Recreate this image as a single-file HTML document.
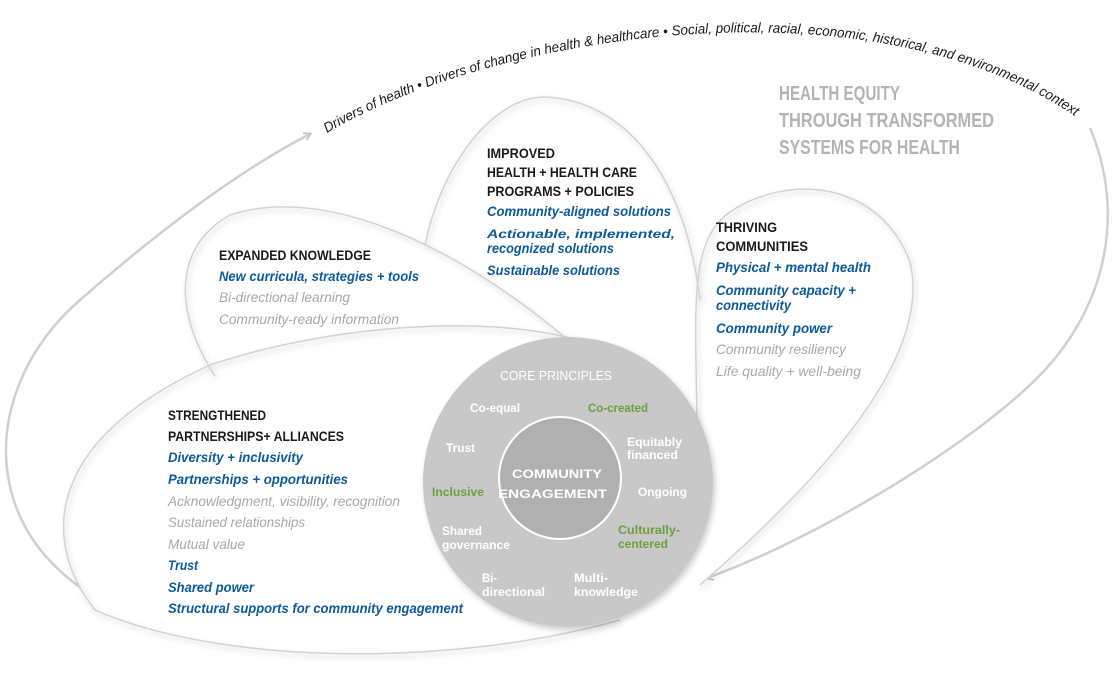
<!DOCTYPE html>
<html><head><meta charset="utf-8"><style>
html,body{margin:0;padding:0;background:#fff;width:1114px;height:673px;overflow:hidden}
svg{display:block}
text{font-family:"Liberation Sans Narrow","Liberation Sans",sans-serif}
.h{font-weight:bold;fill:#1a1a1a;font-size:14px}
.b{font-weight:bold;font-style:italic;fill:#0d5a9a;font-size:14px}
.g{font-style:italic;fill:#a8a8a8;font-size:14px}
.c{font-weight:bold;fill:#fff;font-size:12px}
.cg{font-weight:bold;fill:#6aa23a;font-size:12px}
</style></head><body>
<svg width="1114" height="673" viewBox="0 0 1114 673" xmlns="http://www.w3.org/2000/svg">
<defs>
<filter id="sh" x="-10%" y="-10%" width="120%" height="130%"><feDropShadow dx="2" dy="3" stdDeviation="3" flood-color="#000" flood-opacity="0.2"/></filter>
<marker id="ar" markerWidth="10" markerHeight="10" refX="7" refY="5" orient="auto" markerUnits="userSpaceOnUse"><path d="M1 1 L8 5 L1 9" fill="none" stroke="#c8c8c8" stroke-width="2"/></marker>
<path id="arc" d="M 327 133 C 500 30, 900 -30, 1100 135"/>
</defs>
<!-- big arrows -->
<path d="M 175 628 C -25 580, -35 400, 80 300 C 160 230, 240 170, 310 134" fill="none" stroke="#d0d0d0" stroke-width="2.5" marker-end="url(#ar)"/>
<path d="M 1090 128 C 1125 210, 1110 310, 1030 385 C 950 460, 800 545, 707 578" fill="none" stroke="#d0d0d0" stroke-width="2.5" marker-end="url(#ar)"/>
<text font-size="14" fill="#1a1a1a" font-style="italic"><textPath href="#arc" textLength="780" lengthAdjust="spacingAndGlyphs">Drivers of health  •  Drivers of change in health &amp; healthcare  •  Social, political, racial, economic, historical, and environmental context</textPath></text>
<!-- petal fills -->
<g fill="#fff">
<path d="M 425 245 C 440 170, 490 97, 545 97 C 625 100, 685 175, 705 330 L 568 482 Z"/>
<path d="M 697 420 C 695 300, 690 240, 730 212 C 790 172, 880 182, 910 262 C 930 345, 850 455, 700 585 L 568 482 Z"/>
<path d="M 215 376 C 178 320, 168 250, 230 215 C 320 185, 450 240, 568 340 L 568 482 Z"/>
<path d="M 95 610 C 40 540, 45 440, 210 365 C 330 325, 480 315, 570 338 L 620 620 C 450 668, 220 665, 95 610 Z"/>
</g>
<!-- petal outlines -->
<g fill="none" stroke="#d2d2d2" stroke-width="1.5" filter="url(#sh)">
<path d="M 425 245 C 440 170, 490 97, 545 97 C 625 100, 685 175, 700 300"/>
<path d="M 697 420 C 695 300, 690 240, 730 212 C 790 172, 880 182, 910 262 C 930 345, 850 455, 700 585"/>
<path d="M 215 376 C 178 320, 168 250, 230 215 C 320 185, 450 240, 568 340"/>
<path d="M 570 338 C 480 315, 330 325, 210 365 C 45 440, 40 540, 95 610 C 220 665, 450 668, 620 620"/>
</g>
<!-- core circle -->
<circle cx="568" cy="482" r="145" fill="#c8c8c8" filter="url(#sh)"/>
<circle cx="560" cy="478" r="61" fill="#b0b0b0" stroke="#fff" stroke-width="2"/>
<text x="556" y="380" text-anchor="middle" font-size="13" fill="#fff" textLength="112" lengthAdjust="spacingAndGlyphs">CORE PRINCIPLES</text>
<text class="c" x="470" y="412" textLength="50" lengthAdjust="spacingAndGlyphs">Co-equal</text>
<text class="cg" x="588" y="412" textLength="60" lengthAdjust="spacingAndGlyphs">Co-created</text>
<text class="c" x="446" y="452" textLength="29" lengthAdjust="spacingAndGlyphs">Trust</text>
<text class="c" x="627" y="446" textLength="55" lengthAdjust="spacingAndGlyphs">Equitably</text>
<text class="c" x="627" y="459" textLength="51" lengthAdjust="spacingAndGlyphs">financed</text>
<text class="c" x="512" y="478" font-size="14" textLength="90" lengthAdjust="spacingAndGlyphs">COMMUNITY</text>
<text class="c" x="498" y="498" font-size="14" textLength="109" lengthAdjust="spacingAndGlyphs">ENGAGEMENT</text>
<text class="cg" x="432" y="496" textLength="52" lengthAdjust="spacingAndGlyphs">Inclusive</text>
<text class="c" x="638" y="496" textLength="49" lengthAdjust="spacingAndGlyphs">Ongoing</text>
<text class="c" x="442" y="535" textLength="40" lengthAdjust="spacingAndGlyphs">Shared</text>
<text class="c" x="442" y="549" textLength="68" lengthAdjust="spacingAndGlyphs">governance</text>
<text class="cg" x="618" y="534" textLength="62" lengthAdjust="spacingAndGlyphs">Culturally-</text>
<text class="cg" x="618" y="548" textLength="50" lengthAdjust="spacingAndGlyphs">centered</text>
<text class="c" x="482" y="582" textLength="15" lengthAdjust="spacingAndGlyphs">Bi-</text>
<text class="c" x="482" y="596" textLength="63" lengthAdjust="spacingAndGlyphs">directional</text>
<text class="c" x="574" y="582" textLength="34" lengthAdjust="spacingAndGlyphs">Multi-</text>
<text class="c" x="574" y="596" textLength="64" lengthAdjust="spacingAndGlyphs">knowledge</text>
<!-- health equity -->
<g font-size="20" font-weight="bold" fill="#b4b4b4">
<text x="779" y="100" textLength="121" lengthAdjust="spacingAndGlyphs">HEALTH EQUITY</text>
<text x="779" y="127" textLength="215" lengthAdjust="spacingAndGlyphs">THROUGH TRANSFORMED</text>
<text x="779" y="154" textLength="181" lengthAdjust="spacingAndGlyphs">SYSTEMS FOR HEALTH</text>
</g>
<!-- improved -->
<text class="h" x="487" y="158" textLength="68" lengthAdjust="spacingAndGlyphs">IMPROVED</text>
<text class="h" x="487" y="177" textLength="150" lengthAdjust="spacingAndGlyphs">HEALTH + HEALTH CARE</text>
<text class="h" x="487" y="196" textLength="147" lengthAdjust="spacingAndGlyphs">PROGRAMS + POLICIES</text>
<text class="b" x="487" y="216" textLength="184" lengthAdjust="spacingAndGlyphs">Community-aligned solutions</text>
<text class="b" x="487" y="238" style="font-size:12px" textLength="188" lengthAdjust="spacingAndGlyphs">Actionable, implemented,</text>
<text class="b" x="487" y="253" textLength="127" lengthAdjust="spacingAndGlyphs">recognized solutions</text>
<text class="b" x="487" y="275" textLength="133" lengthAdjust="spacingAndGlyphs">Sustainable solutions</text>
<!-- expanded -->
<text class="h" x="219" y="260" textLength="152" lengthAdjust="spacingAndGlyphs">EXPANDED KNOWLEDGE</text>
<text class="b" x="219" y="281" textLength="200" lengthAdjust="spacingAndGlyphs">New curricula, strategies + tools</text>
<text class="g" x="219" y="302" textLength="131" lengthAdjust="spacingAndGlyphs">Bi-directional learning</text>
<text class="g" x="219" y="324" textLength="180" lengthAdjust="spacingAndGlyphs">Community-ready information</text>
<!-- thriving -->
<text class="h" x="716" y="232" textLength="61" lengthAdjust="spacingAndGlyphs">THRIVING</text>
<text class="h" x="716" y="251" textLength="92" lengthAdjust="spacingAndGlyphs">COMMUNITIES</text>
<text class="b" x="716" y="272" textLength="155" lengthAdjust="spacingAndGlyphs">Physical + mental health</text>
<text class="b" x="716" y="295" textLength="140" lengthAdjust="spacingAndGlyphs">Community capacity +</text>
<text class="b" x="716" y="310" textLength="75" lengthAdjust="spacingAndGlyphs">connectivity</text>
<text class="b" x="716" y="333" textLength="116" lengthAdjust="spacingAndGlyphs">Community power</text>
<text class="g" x="716" y="354" textLength="130" lengthAdjust="spacingAndGlyphs">Community resiliency</text>
<text class="g" x="716" y="376" textLength="145" lengthAdjust="spacingAndGlyphs">Life quality + well-being</text>
<!-- strengthened -->
<text class="h" x="168" y="420" textLength="98" lengthAdjust="spacingAndGlyphs">STRENGTHENED</text>
<text class="h" x="168" y="441" textLength="176" lengthAdjust="spacingAndGlyphs">PARTNERSHIPS+ ALLIANCES</text>
<text class="b" x="168" y="462" textLength="135" lengthAdjust="spacingAndGlyphs">Diversity + inclusivity</text>
<text class="b" x="168" y="484" textLength="180" lengthAdjust="spacingAndGlyphs">Partnerships + opportunities</text>
<text class="g" x="168" y="506" textLength="232" lengthAdjust="spacingAndGlyphs">Acknowledgment, visibility, recognition</text>
<text class="g" x="168" y="527" textLength="137" lengthAdjust="spacingAndGlyphs">Sustained relationships</text>
<text class="g" x="168" y="549" textLength="77" lengthAdjust="spacingAndGlyphs">Mutual value</text>
<text class="b" x="168" y="570" textLength="30" lengthAdjust="spacingAndGlyphs">Trust</text>
<text class="b" x="168" y="592" textLength="86" lengthAdjust="spacingAndGlyphs">Shared power</text>
<text class="b" x="168" y="613" textLength="295" lengthAdjust="spacingAndGlyphs">Structural supports for community engagement</text>
</svg>
</body></html>
